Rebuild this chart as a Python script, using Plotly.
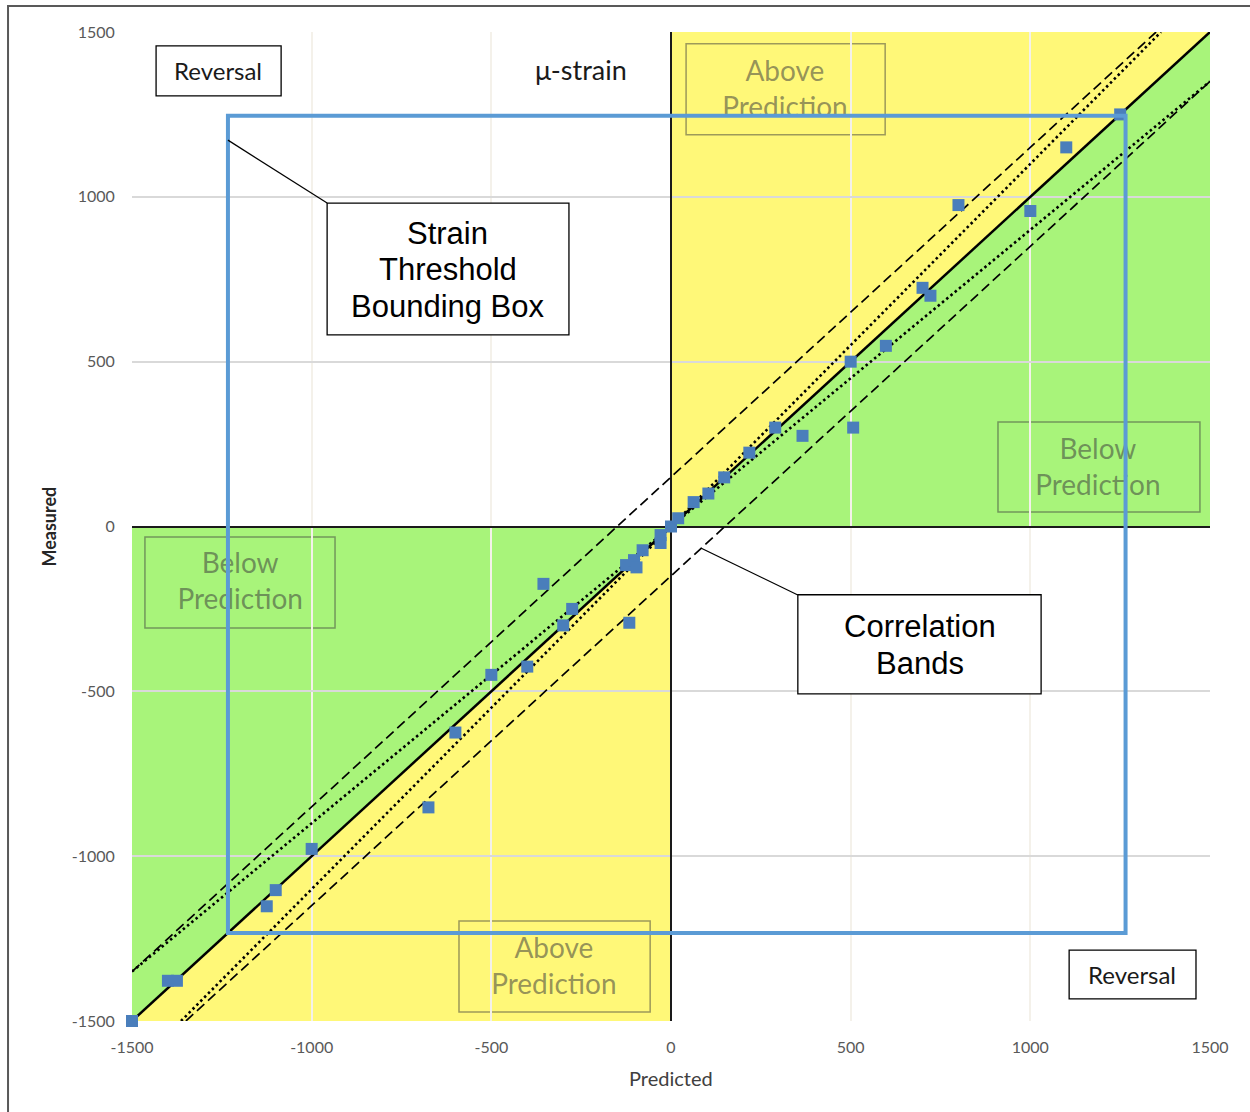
import plotly.graph_objects as go

# ---- measured vs predicted strain readings (micro-strain) ----
predicted = [-1500, -1400, -1375, -1125, -1100, -1000, -675, -600, -500, -400,
             -355, -300, -275, -125, -103, -96, -116, -79, -29, -29,
             0, 20, 63, 104, 148, 218, 290, 366, 500, 507,
             598, 700, 722, 800, 1000, 1100, 1250]
measured = [-1500, -1378, -1378, -1152, -1103, -978, -852, -625, -450, -425,
            -174, -300, -250, -117, -102, -124, -292, -72, -26, -50,
            0, 25, 74, 100, 149, 224, 300, 275, 500, 300,
            548, 724, 700, 975, 957, 1150, 1250]

axis_min, axis_max = -1500, 1500
tick_vals = [-1500, -1000, -500, 0, 500, 1000, 1500]
tick_text = ["-1500", "-1000", "-500", "0", "500", "1000", "1500"]

# correlation bands: fixed +/- offset and +/- percentage of prediction
band_offset = 150
band_ratio = 0.10

# strain threshold bounding box
bbox_x = [-1233, 1265]
bbox_y = [-1233, 1246]

YELLOW = "#FFF878"
GREEN = "#A8F47A"
BLUE_PT = "#4A7EBB"
BLUE_BOX = "#5B9BD5"
LABEL_CLR = "rgba(60,60,60,0.55)"
LABEL_BOX = "rgba(60,60,60,0.5)"

fig = go.Figure()

# --- reference lines ---
lo, hi = axis_min, axis_max
fig.add_trace(go.Scatter(x=[lo, hi], y=[lo, hi], mode="lines",
                         line=dict(color="black", width=2.5), hoverinfo="skip"))
# offset bands y = x +/- offset, clipped to the axis range
fig.add_trace(go.Scatter(x=[lo, hi - band_offset], y=[lo + band_offset, hi], mode="lines",
                         line=dict(color="black", width=1.7, dash="10px,5px"), hoverinfo="skip"))
fig.add_trace(go.Scatter(x=[lo + band_offset, hi], y=[lo, hi - band_offset], mode="lines",
                         line=dict(color="black", width=1.7, dash="10px,5px"), hoverinfo="skip"))
# ratio bands y = (1 +/- r) x, clipped to the axis range
up = 1 + band_ratio
dn = 1 - band_ratio
fig.add_trace(go.Scatter(x=[lo / up, hi / up], y=[lo, hi], mode="lines",
                         line=dict(color="black", width=2.6, dash="2.5px,3px"), hoverinfo="skip"))
fig.add_trace(go.Scatter(x=[lo, hi], y=[lo * dn, hi * dn], mode="lines",
                         line=dict(color="black", width=2.6, dash="2.5px,3px"), hoverinfo="skip"))

# --- region labels (drawn under the bounding box line) ---
region_labels = [
    (317, 1318, "Above<br>Prediction"),
    (1188, 171, "Below<br>Prediction"),
    (-1199, -175, "Below<br>Prediction"),
    (-326, -1342, "Above<br>Prediction"),
]
fig.add_trace(go.Scatter(
    x=[r[0] for r in region_labels], y=[r[1] for r in region_labels],
    text=[r[2] for r in region_labels], mode="text", textposition="middle center",
    textfont=dict(family="Lato", size=28, color=LABEL_CLR), hoverinfo="skip"))

# --- data points ---
fig.add_trace(go.Scatter(x=predicted, y=measured, mode="markers", cliponaxis=False,
                         marker=dict(symbol="square", size=12, color=BLUE_PT,
                                     line=dict(width=0)),
                         hoverinfo="x+y"))

shapes = []
# quadrant shading
shapes += [
    dict(type="path", path=f"M 0 0 L 0 {hi} L {hi} {hi} Z", fillcolor=YELLOW, line=dict(width=0), layer="below"),
    dict(type="path", path=f"M 0 0 L {hi} 0 L {hi} {hi} Z", fillcolor=GREEN, line=dict(width=0), layer="below"),
    dict(type="path", path=f"M 0 0 L {lo} 0 L {lo} {lo} Z", fillcolor=GREEN, line=dict(width=0), layer="below"),
    dict(type="path", path=f"M 0 0 L 0 {lo} L {lo} {lo} Z", fillcolor=YELLOW, line=dict(width=0), layer="below"),
]
# region label frames
for x0, x1, y0, y1 in [(42, 596, 1188, 1464), (910, 1472, 44, 317),
                       (-1464, -935, -308, -32), (-590, -58, -1473, -1197)]:
    shapes.append(dict(type="rect", x0=x0, x1=x1, y0=y0, y1=y1,
                       line=dict(color=LABEL_BOX, width=1.5), layer="below"))
# bounding box
shapes.append(dict(type="rect", x0=bbox_x[0], x1=bbox_x[1], y0=bbox_y[0], y1=bbox_y[1],
                   line=dict(color=BLUE_BOX, width=4), layer="above"))
# callout leaders
shapes.append(dict(type="line", x0=-1233, y0=1172, x1=-957, y1=981,
                   line=dict(color="black", width=1.2), layer="above"))
shapes.append(dict(type="line", x0=83, y0=-65, x1=353, y1=-208,
                   line=dict(color="black", width=1.2), layer="above"))
# white text boxes
for x0, x1, y0, y1 in [(-1433, -1085, 1306, 1458), (1108, 1461, -1433, -1285),
                       (-957, -284, 581, 981), (353, 1030, -508, -207)]:
    shapes.append(dict(type="rect", x0=x0, x1=x1, y0=y0, y1=y1, fillcolor="white",
                       line=dict(color="black", width=1.3), layer="above"))
# outer frame
shapes.append(dict(type="rect", xref="paper", yref="paper", x0=-0.1150, x1=1.04,
                   y0=-0.095, y1=1.0263, line=dict(color="#595959", width=2), layer="above"))

annotations = []
for x, y, t in [(-1261, 1382, "Reversal"), (1283, -1360, "Reversal")]:
    annotations.append(dict(x=x, y=y, text=t, showarrow=False,
                            font=dict(family="Lato", size=24, color="#1a1a1a")))
annotations.append(dict(x=-250, y=1385, text="μ-strain", showarrow=False,
                        font=dict(family="Lato", size=27, color="#1a1a1a")))
for y, t in [(888, "Strain"), (779, "Threshold"), (667, "Bounding Box")]:
    annotations.append(dict(x=-621, y=y, text=t, showarrow=False,
                            font=dict(family="Liberation Sans", size=31, color="black")))
for y, t in [(-304, "Correlation"), (-416, "Bands")]:
    annotations.append(dict(x=692, y=y, text=t, showarrow=False,
                            font=dict(family="Liberation Sans", size=31, color="black")))
# axis titles
annotations.append(dict(xref="paper", yref="paper", x=-0.0779, y=0.5, text="<b>Measured</b>",
                        xanchor="center", yanchor="middle",
                        textangle=-90, showarrow=False,
                        font=dict(family="Lato", size=18, color="#262626")))
annotations.append(dict(xref="paper", yref="paper", x=0.5, y=-0.0576, text="Predicted",
                        xanchor="center", yanchor="middle",
                        showarrow=False, font=dict(family="Lato", size=20, color="#404040")))

axis_common = dict(range=[axis_min, axis_max], tickvals=tick_vals, ticktext=tick_text,
                   showline=False, zeroline=True, zerolinecolor="#1a1a1a", zerolinewidth=2,
                   ticks="outside", tickcolor="rgba(0,0,0,0)",
                   tickfont=dict(family="Lato", size=16, color="#595959"),
                   fixedrange=True)

fig.update_layout(
    width=1250, height=1112,
    margin=dict(l=132, r=40, t=32, b=91),
    paper_bgcolor="white", plot_bgcolor="white",
    showlegend=False,
    shapes=shapes, annotations=annotations,
    xaxis=dict(**axis_common, ticklen=12, gridcolor="#F4F1EA", gridwidth=1.5),
    yaxis=dict(**axis_common, ticklen=13, gridcolor="#D9D9D9", gridwidth=1.5),
)

fig.write_html("out.html")
